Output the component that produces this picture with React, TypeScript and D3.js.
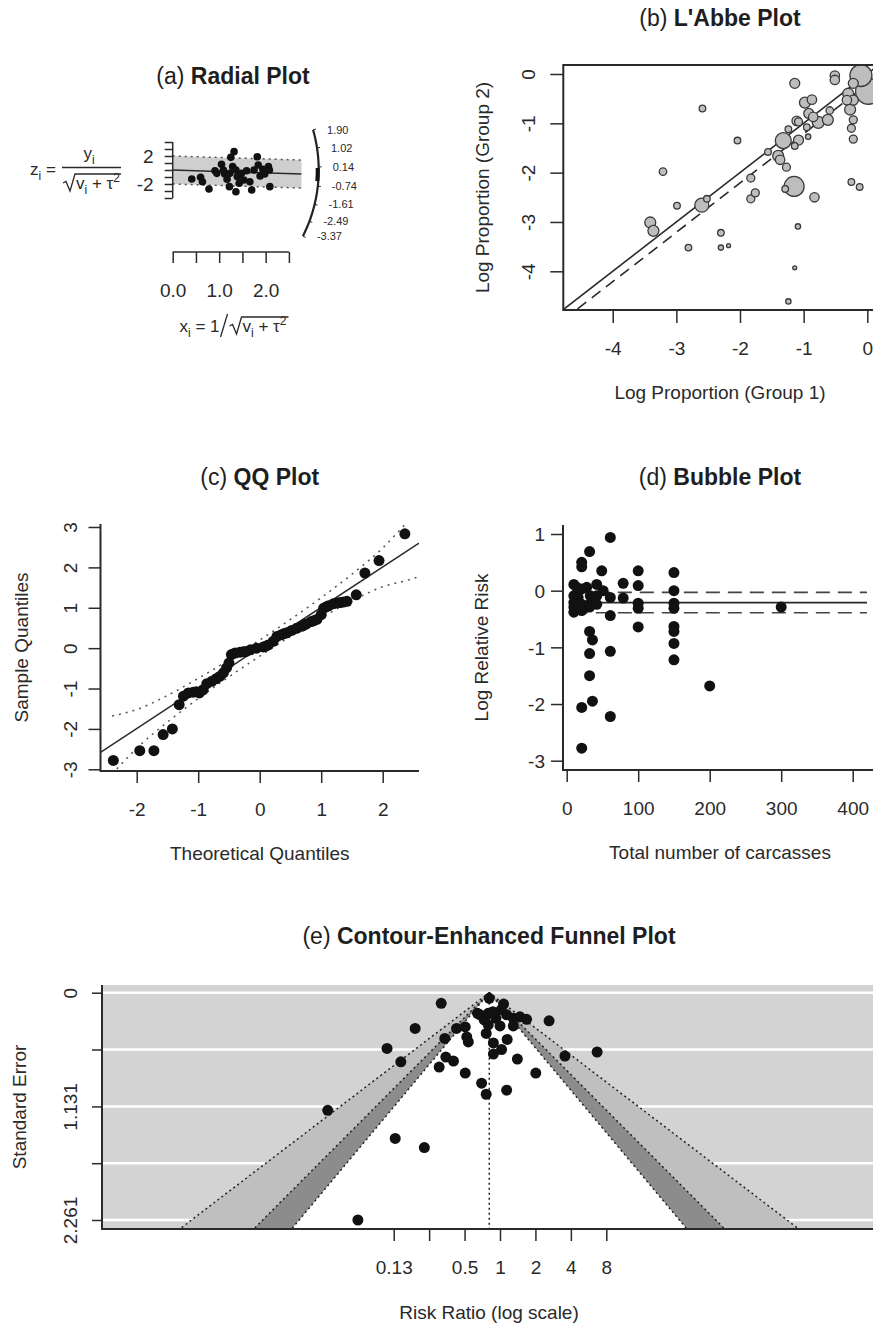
import React, { useEffect, useRef } from 'react';
import * as d3 from 'd3';

const FONT = "'Liberation Sans', Arial, Helvetica, sans-serif";
const INK = '#2a2a2a';

// pooled estimate (log risk ratio), shared by the panels
const pooledLogRR = -0.21;
const pooledCI = [-0.39, -0.03];

// (a) radial plot
const radialX = [0.41, 0.60, 0.64, 0.78, 0.91, 0.95, 1.05, 1.09, 1.12, 1.17, 1.22, 1.23, 1.25, 1.29, 1.32, 1.36, 1.36, 1.39, 1.43, 1.48, 1.53, 1.59, 1.66, 1.70, 1.75, 1.82, 1.84, 1.88, 1.94, 1.98, 2.06, 2.08, 2.09];
const radialZ = [-1.29, -1.05, -1.67, -2.71, -0.10, -0.48, 0.81, 0, -0.57, -1.33, -2.38, -0.48, 1.81, 0.48, 2.62, 0, -3.10, -0.95, -1.90, -0.48, -1.43, -0.10, -1.67, -2.86, 0, 1.90, 0.71, -0.86, 0.10, -0.57, 0.48, 0, -2.38];
const radialArcValues = [1.90, 1.02, 0.14, -0.74, -1.61, -2.49, -3.37];
const radialXTicks = [0, 0.5, 1, 1.5, 2, 2.5];
const radialXLabels = ['0.0', '', '1.0', '', '2.0', ''];
const radialZTicks = [-4, -3, -2, -1, 0, 1, 2, 3, 4];
const radialZLabels = ['', '', '-2', '', '', '', '2', '', ''];
const radialXMax = 2.77;

// (b) L'Abbe plot: log proportions and study weights
const labbeX = [-1.14, -2.59, -2.04, -3.21, -2.99, -2.60, -2.52, -3.41, -3.36, -2.81, -2.30, -2.30, -2.18, -1.83, -1.83, -1.76, -1.15, -1.29, -0.83, -1.09, -1.14, -1.24, -1.27, -1.32, -1.40, -1.56, -1.37, -1.08, -1.11, -1.24, -1.14, -0.98, -0.87, -0.92, -0.77, -0.62, -0.59, -0.95, -0.93, -0.51, -0.51, -0.10, 0.02, -0.22, -0.30, -0.22, -0.32, -0.27, -0.22, -0.25, -0.22, -0.25, -0.12, -1.08, -0.85];
const labbeY = [-0.19, -0.70, -1.35, -1.98, -2.67, -2.66, -2.53, -3.01, -3.18, -3.52, -3.22, -3.52, -3.48, -2.11, -2.53, -2.41, -2.28, -2.33, -2.50, -3.09, -3.93, -4.61, -1.89, -1.35, -1.66, -1.58, -1.74, -1.34, -0.95, -1.12, -1.46, -0.58, -0.52, -0.80, -0.98, -0.93, -0.74, -1.08, -1.27, -0.03, -0.12, -0.03, -0.35, -0.19, -0.40, -0.53, -0.53, -0.72, -0.93, -1.10, -1.32, -2.19, -2.29, -0.97, -0.87];
const labbeW = [25, 11, 11, 14, 11, 49, 11, 30, 30, 11, 11, 7, 4, 16, 16, 16, 100, 11, 22, 7, 4, 7, 16, 64, 30, 11, 22, 25, 22, 11, 11, 30, 22, 25, 36, 30, 14, 11, 7, 22, 22, 121, 169, 25, 30, 25, 22, 30, 16, 16, 16, 11, 11, 16, 22];
const labbeTicks = [-4, -3, -2, -1, 0];

// (c) normal QQ plot
const qqTheoretical = [-2.38, -1.95, -1.72, -1.57, -1.42, -1.31, -1.24, -1.16, -1.08, -1.03, -0.98, -0.92, -0.86, -0.78, -0.71, -0.65, -0.59, -0.54, -0.50, -0.46, -0.40, -0.32, -0.27, -0.22, -0.15, -0.05, 0.06, 0.10, 0.14, 0.22, 0.28, 0.35, 0.40, 0.44, 0.52, 0.60, 0.68, 0.72, 0.76, 0.84, 0.88, 0.93, 1.00, 1.04, 1.08, 1.12, 1.20, 1.26, 1.31, 1.36, 1.42, 1.57, 1.71, 1.94, 2.36];
const qqSample = [-2.78, -2.54, -2.54, -2.14, -2.00, -1.40, -1.19, -1.11, -1.09, -1.08, -1.11, -1.03, -0.88, -0.82, -0.76, -0.70, -0.61, -0.49, -0.37, -0.16, -0.12, -0.10, -0.09, -0.08, -0.04, 0.00, 0.03, 0.05, 0.08, 0.17, 0.29, 0.33, 0.36, 0.38, 0.44, 0.49, 0.54, 0.57, 0.60, 0.66, 0.68, 0.71, 0.83, 0.99, 1.02, 1.05, 1.10, 1.12, 1.13, 1.14, 1.16, 1.32, 1.86, 2.17, 2.83];
const qqBandX = [-2.4, -2.0, -1.5, -1.0, -0.5, 0, 0.5, 1.0, 1.5, 2.0, 2.4, 2.55];
const qqUpper = [-1.68, -1.52, -1.17, -0.75, -0.29, 0.20, 0.71, 1.25, 1.83, 2.48, 3.12, 3.35];
const qqLower = [-3.12, -2.48, -1.83, -1.25, -0.71, -0.20, 0.29, 0.75, 1.17, 1.52, 1.68, 1.75];
const qqLineCoef = [0.01, 1.0];
const qqXTicks = [-2, -1, 0, 1, 2];
const qqYTicks = [-3, -2, -1, 0, 1, 2, 3];

// (d) bubble plot
const bubbleCarcasses = [61, 32, 21, 21, 49, 100, 150, 79, 100, 10, 14, 28, 42, 21, 51, 150, 10, 16, 33, 42, 61, 79, 10, 21, 32, 42, 100, 150, 100, 150, 10, 10, 21, 32, 61, 300, 100, 150, 150, 32, 36, 150, 32, 61, 150, 32, 200, 21, 36, 61, 21];
const bubbleLogRR = [0.94, 0.69, 0.50, 0.42, 0.35, 0.35, 0.32, 0.13, 0.09, 0.11, 0.06, 0.06, 0.11, 0.03, 0, 0, -0.09, -0.12, -0.09, -0.09, -0.12, -0.13, -0.21, -0.24, -0.24, -0.24, -0.22, -0.22, -0.31, -0.31, -0.29, -0.38, -0.35, -0.29, -0.44, -0.29, -0.64, -0.63, -0.72, -0.72, -0.87, -0.93, -1.11, -1.07, -1.22, -1.50, -1.68, -2.06, -1.95, -2.22, -2.78];
const bubbleFitRange = [10, 420];
const bubbleXTicks = [0, 100, 200, 300, 400];
const bubbleYTicks = [-3, -2, -1, 0, 1];

// (e) contour-enhanced funnel plot
const funnelLogRR = [-0.21, -1.15, 0.07, -1.66, -2.21, -1.94, 0.96, 1.27, 1.90, 0.34, 0.70, 0.14, -0.85, -0.68, -0.65, -0.62, -1.08, -1.06, -0.91, -1.19, -0.68, -0.27, -0.13, 0.03, -0.13, -0.36, -0.27, 0.13, -0.39, -0.23, -0.08, 0.13, 0.26, 0.39, 0.52, -0.23, 0.00, 0.26, -3.37, -2.05, -1.48, -2.78, -0.44, 0.02, -0.31, -0.14];
const funnelSE = [0.056, 0.106, 0.113, 0.355, 0.554, 0.688, 0.28, 0.63, 0.59, 0.66, 0.80, 0.465, 0.355, 0.34, 0.44, 0.49, 0.455, 0.64, 0.68, 0.74, 0.80, 0.405, 0.50, 0.565, 0.61, 0.90, 1.01, 0.97, 0.22, 0.205, 0.255, 0.22, 0.255, 0.24, 0.265, 0.32, 0.33, 0.33, 1.17, 1.45, 1.54, 2.261, 0.205, 0.17, 0.27, 0.19];
const funnelXTicks = [0.125, 0.25, 0.5, 1, 2, 4, 8];
const funnelXLabels = ['0.13', '', '0.5', '1', '2', '4', '8'];
const funnelSETicks = [0, 0.565, 1.131, 1.696, 2.261];
const funnelSELabels = ['0', '', '1.131', '', '2.261'];
const funnelLevels = [2.576, 1.96, 1.645]; // 99%, 95%, 90%
const funnelShades = ['#bfbfbf', '#8c8c8c', '#ffffff'];

// ---------- helpers ----------
function drawTitle(svg: any, x: number, y: number, letter: string, name: string) {
  const t = svg.append('text').attr('x', x).attr('y', y).attr('text-anchor', 'middle')
    .style('font-family', FONT).style('font-size', '23px').attr('fill', '#1e1e1e');
  t.append('tspan').text(letter + ' ');
  t.append('tspan').attr('font-weight', 'bold').text(name);
}

function styleAxis(g: any) {
  g.attr('font-family', null).attr('font-size', null);
  g.select('.domain').remove();
  g.selectAll('.tick line').attr('stroke', INK).attr('stroke-width', 1.5);
  g.selectAll('.tick text').attr('fill', INK).style('font-family', FONT).style('font-size', '19px');
}

function bottomAxis(svg: any, scale: any, y: number, ticks: number[], labels: string[], tick: number, gap: number) {
  const g = svg.append('g').attr('transform', `translate(0,${y})`)
    .call(d3.axisBottom(scale).tickValues(ticks).tickSize(tick).tickSizeOuter(0).tickFormat((d: any, i: number) => labels[i]));
  styleAxis(g);
  g.selectAll('.tick text').attr('y', gap).attr('dy', '0.35em');
  return g;
}

function leftAxis(svg: any, scale: any, x: number, ticks: number[], labels: string[], tick: number, gap: number, rotate: boolean) {
  const g = svg.append('g').attr('transform', `translate(${x},0)`)
    .call(d3.axisLeft(scale).tickValues(ticks).tickSize(tick).tickSizeOuter(0).tickFormat((d: any, i: number) => labels[i]));
  styleAxis(g);
  if (rotate) {
    g.selectAll('.tick text').attr('transform', 'rotate(-90)').attr('x', 0).attr('y', -gap)
      .attr('dy', '0.35em').attr('text-anchor', 'middle');
  } else {
    g.selectAll('.tick text').attr('x', -gap).attr('dy', '0.35em').attr('text-anchor', 'end');
  }
  return g;
}

function axisTitle(svg: any, x: number, y: number, text: string, rotate = false) {
  const t = svg.append('text').attr('text-anchor', 'middle').attr('dy', '0.35em')
    .style('font-family', FONT).style('font-size', '19px').attr('fill', INK).text(text);
  if (rotate) t.attr('transform', `translate(${x},${y}) rotate(-90)`);
  else t.attr('x', x).attr('y', y);
}

function lBox(svg: any, x0: number, x1: number, y0: number, y1: number) {
  svg.append('path').attr('d', `M${x0},${y0}V${y1}H${x1}`)
    .attr('fill', 'none').attr('stroke', INK).attr('stroke-width', 2);
}

function clipRect(svg: any, id: string, x0: number, x1: number, y0: number, y1: number) {
  svg.append('clipPath').attr('id', id).append('rect')
    .attr('x', x0).attr('y', y0).attr('width', x1 - x0).attr('height', y1 - y0);
  return svg.append('g').attr('clip-path', `url(#${id})`);
}

// text with sub/superscripts, parts = [text, 'n' | 'sub' | 'sup']
function mathRun(g: any, x: number, y: number, parts: string[][], size = 17, anchor = 'start') {
  const t = g.append('text').attr('x', x).attr('y', y).attr('text-anchor', anchor)
    .style('font-family', FONT).style('font-size', size + 'px').attr('fill', INK);
  let shift = 0;
  parts.forEach(([s, kind]) => {
    const want = kind === 'sub' ? 0.3 * size : kind === 'sup' ? -0.42 * size : 0;
    t.append('tspan').attr('dy', want - shift)
      .style('font-size', (kind === 'n' ? size : Math.round(size * 0.7)) + 'px').text(s);
    shift = want;
  });
  return t;
}

// ---------- (a) radial ----------
function drawRadial(svg: any) {
  const xS = d3.scaleLinear().domain([0, 2.5]).range([172.7, 288.9]);
  const zS = d3.scaleLinear().domain([-4, 4]).range([198, 142]);
  const b = pooledLogRR;
  const g = svg.append('g');

  const band = [[0, 2], [radialXMax, b * radialXMax + 2], [radialXMax, b * radialXMax - 2], [0, -2]];
  g.append('path').attr('d', d3.line()(band.map(p => [xS(p[0]), zS(p[1])]) as any) + 'Z').attr('fill', '#cfcfcf');
  [2, -2].forEach(off => {
    g.append('line').attr('x1', xS(0)).attr('y1', zS(off)).attr('x2', xS(radialXMax)).attr('y2', zS(b * radialXMax + off))
      .attr('stroke', '#555').attr('stroke-width', 1.5).attr('stroke-dasharray', '2,4');
  });
  g.append('line').attr('x1', xS(0)).attr('y1', zS(0)).attr('x2', xS(radialXMax)).attr('y2', zS(b * radialXMax))
    .attr('stroke', INK).attr('stroke-width', 1.5);

  g.selectAll('.rdot').data(radialX).join('circle').attr('class', 'rdot')
    .attr('cx', (d: number) => xS(d)).attr('cy', (d: number, i: number) => zS(radialZ[i]))
    .attr('r', 3.8).attr('fill', '#111');

  // axes (R style: line from first to last tick)
  g.append('line').attr('x1', xS(0)).attr('x2', xS(0)).attr('y1', zS(-4)).attr('y2', zS(4)).attr('stroke', INK).attr('stroke-width', 1.5);
  leftAxis(g, zS, xS(0), radialZTicks, radialZLabels, 8, 19, false);
  g.append('line').attr('x1', xS(0)).attr('x2', xS(2.5)).attr('y1', 252).attr('y2', 252).attr('stroke', INK).attr('stroke-width', 1.5);
  bottomAxis(g, xS, 252, radialXTicks, radialXLabels, 11, 38);

  // arc with effect-size scale
  const ox = xS(0), oz = zS(0), R = 146;
  const arcPt = (v: number, r = R) => {
    const a = Math.atan2(zS(v) - oz, xS(1) - ox);
    return [ox + r * Math.cos(a), oz + r * Math.sin(a)];
  };
  const [lo, hi] = d3.extent(radialArcValues) as number[];
  g.append('path').attr('d', d3.line()(d3.range(0, 1.0001, 0.02).map(t => arcPt(lo + t * (hi - lo))) as any))
    .attr('fill', 'none').attr('stroke', '#222').attr('stroke-width', 2.2);
  radialArcValues.forEach(v => {
    const p = arcPt(v), q = arcPt(v, R + 3);
    g.append('line').attr('x1', p[0]).attr('y1', p[1]).attr('x2', q[0]).attr('y2', q[1]).attr('stroke', '#222').attr('stroke-width', 1);
    g.append('text').attr('x', p[0] + 14).attr('y', p[1]).attr('dy', '0.35em')
      .style('font-family', FONT).style('font-size', '11px').attr('fill', INK).text(v.toFixed(2));
  });
  g.append('path').attr('d', d3.line()(d3.range(-0.3, 0.3001, 0.05).map(t => arcPt(b + t, R - 1)) as any))
    .attr('fill', 'none').attr('stroke', '#111').attr('stroke-width', 4);

  // y-axis formula: z_i = y_i / sqrt(v_i + tau^2)
  mathRun(g, 30, 175, [['z', 'n'], ['i', 'sub'], [' =', 'n']]);
  mathRun(g, 89, 159, [['y', 'n'], ['i', 'sub']], 17, 'middle');
  g.append('line').attr('x1', 62).attr('x2', 121).attr('y1', 167.5).attr('y2', 167.5).attr('stroke', INK).attr('stroke-width', 1.5);
  g.append('path').attr('d', 'M63,183 L66,181.5 L70,191 L75,174 L121,174').attr('fill', 'none').attr('stroke', INK).attr('stroke-width', 1.3);
  mathRun(g, 76, 189, [['v', 'n'], ['i', 'sub'], [' + τ', 'n'], ['2', 'sup']]);

  // x-axis formula: x_i = 1 / sqrt(v_i + tau^2)
  const fg = g.append('g');
  const left = mathRun(fg, 0, 332, [['x', 'n'], ['i', 'sub'], [' = 1', 'n']]);
  const w1 = (left.node() as any).getComputedTextLength();
  fg.append('line').attr('x1', w1 + 1).attr('y1', 337).attr('x2', w1 + 8).attr('y2', 314).attr('stroke', INK).attr('stroke-width', 1.3);
  const s = w1 + 10;
  const den = mathRun(fg, s + 13, 332, [['v', 'n'], ['i', 'sub'], [' + τ', 'n'], ['2', 'sup']]);
  const w2 = (den.node() as any).getComputedTextLength();
  fg.append('path').attr('d', `M${s},326 L${s + 3},324.5 L${s + 7},334 L${s + 12},317 L${s + 15 + w2},317`)
    .attr('fill', 'none').attr('stroke', INK).attr('stroke-width', 1.3);
  const total = s + 15 + w2;
  fg.attr('transform', `translate(${234 - total / 2},0)`);

  drawTitle(svg, 233, 84, '(a)', 'Radial Plot');
}

// ---------- (b) L'Abbe ----------
function drawLabbe(svg: any) {
  const x0 = 563.3, x1 = 876, y0 = 65, y1 = 310;
  const xS = d3.scaleLinear().domain([-4, 0]).range([612.7, 867.3]);
  const yS = d3.scaleLinear().domain([-4, 0]).range([271.3, 74]);
  const rS = d3.scaleSqrt().domain([0, 169]).range([0, 13]);
  const g = clipRect(svg, 'clipB', x0, x1, y0, y1);
  const a = xS.invert(x0), c = xS.invert(x1);

  g.append('line').attr('x1', xS(a)).attr('y1', yS(a)).attr('x2', xS(c)).attr('y2', yS(c))
    .attr('stroke', INK).attr('stroke-width', 1.6);
  g.append('line').attr('x1', xS(a)).attr('y1', yS(a + pooledLogRR)).attr('x2', xS(c)).attr('y2', yS(c + pooledLogRR))
    .attr('stroke', INK).attr('stroke-width', 1.6).attr('stroke-dasharray', '11,7');

  const order = d3.range(labbeX.length).sort((i, j) => labbeW[j] - labbeW[i]);
  g.selectAll('.lb').data(order).join('circle').attr('class', 'lb')
    .attr('cx', (i: number) => xS(labbeX[i])).attr('cy', (i: number) => yS(labbeY[i]))
    .attr('r', (i: number) => rS(labbeW[i]))
    .attr('fill', '#bdbdbd').attr('stroke', '#3a3a3a').attr('stroke-width', 1.3);

  svg.append('rect').attr('x', x0).attr('y', y0).attr('width', x1 - x0).attr('height', y1 - y0)
    .attr('fill', 'none').attr('stroke', INK).attr('stroke-width', 2);
  bottomAxis(svg, xS, y1, labbeTicks, labbeTicks.map(String), 13, 38);
  leftAxis(svg, yS, x0, labbeTicks, labbeTicks.map(String), 13, 35, true);
  axisTitle(svg, 720, 392, 'Log Proportion (Group 1)');
  axisTitle(svg, 482, (y0 + y1) / 2, 'Log Proportion (Group 2)', true);
  drawTitle(svg, 720, 26, '(b)', "L'Abbe Plot");
}

// ---------- (c) QQ ----------
function drawQQ(svg: any) {
  const x0 = 100.5, x1 = 419, y0 = 524, y1 = 771;
  const xS = d3.scaleLinear().domain([-2, 2]).range([136.7, 382.7]);
  const yS = d3.scaleLinear().domain([-3, 3]).range([769.3, 527]);
  const g = clipRect(svg, 'clipC', x0, x1, y0, y1);

  const env = d3.line<number>().x(i => xS(qqBandX[i])).curve(d3.curveMonotoneX);
  [qqUpper, qqLower].forEach(arr => {
    g.append('path').attr('d', env.y(i => yS(arr[i]))(d3.range(qqBandX.length)))
      .attr('fill', 'none').attr('stroke', '#555').attr('stroke-width', 1.5).attr('stroke-dasharray', '2,5');
  });
  const a = xS.invert(x0), c = xS.invert(x1);
  g.append('line').attr('x1', xS(a)).attr('y1', yS(qqLineCoef[0] + qqLineCoef[1] * a))
    .attr('x2', xS(c)).attr('y2', yS(qqLineCoef[0] + qqLineCoef[1] * c)).attr('stroke', INK).attr('stroke-width', 1.5);
  g.selectAll('.qd').data(qqTheoretical).join('circle').attr('class', 'qd')
    .attr('cx', (d: number) => xS(d)).attr('cy', (d: number, i: number) => yS(qqSample[i]))
    .attr('r', 5.5).attr('fill', '#111');

  lBox(svg, x0, x1, y0, y1);
  bottomAxis(svg, xS, y1, qqXTicks, qqXTicks.map(String), 12, 38);
  leftAxis(svg, yS, x0, qqYTicks, qqYTicks.map(String), 12, 30, true);
  axisTitle(svg, (x0 + x1) / 2, 853, 'Theoretical Quantiles');
  axisTitle(svg, 21.7, (y0 + y1) / 2, 'Sample Quantiles', true);
  drawTitle(svg, (x0 + x1) / 2, 485, '(c)', 'QQ Plot');
}

// ---------- (d) bubble ----------
function drawBubble(svg: any) {
  const x0 = 563, x1 = 878, y0 = 525, y1 = 770;
  const xS = d3.scaleLinear().domain([0, 400]).range([566.7, 852.7]);
  const yS = d3.scaleLinear().domain([-3, 1]).range([760.7, 534]);
  const g = clipRect(svg, 'clipD', x0, x1, y0, y1);

  g.append('line').attr('x1', xS(bubbleFitRange[0])).attr('x2', xS(bubbleFitRange[1]))
    .attr('y1', yS(pooledLogRR)).attr('y2', yS(pooledLogRR)).attr('stroke', INK).attr('stroke-width', 1.6);
  pooledCI.forEach(v => {
    g.append('line').attr('x1', xS(bubbleFitRange[0])).attr('x2', xS(bubbleFitRange[1]))
      .attr('y1', yS(v)).attr('y2', yS(v)).attr('stroke', '#444').attr('stroke-width', 1.6).attr('stroke-dasharray', '14,8');
  });
  g.selectAll('.bd').data(bubbleCarcasses).join('circle').attr('class', 'bd')
    .attr('cx', (d: number) => xS(d)).attr('cy', (d: number, i: number) => yS(bubbleLogRR[i]))
    .attr('r', 5.5).attr('fill', '#111');

  lBox(svg, x0, x1, y0, y1);
  bottomAxis(svg, xS, y1, bubbleXTicks, bubbleXTicks.map(String), 12, 38);
  leftAxis(svg, yS, x0, bubbleYTicks, bubbleYTicks.map(String), 12, 18, false);
  axisTitle(svg, 720, 852, 'Total number of carcasses');
  axisTitle(svg, 481.7, (y0 + y1) / 2, 'Log Relative Risk', true);
  drawTitle(svg, 720, 485, '(d)', 'Bubble Plot');
}

// ---------- (e) funnel ----------
function drawFunnel(svg: any) {
  const x0 = 102, x1 = 876.6, y0 = 985, y1 = 1229;
  const xS = d3.scaleLog().base(2).domain([0.125, 8]).range([393.7, 606.3]);
  const yS = d3.scaleLinear().domain([0, 2.261]).range([992.7, 1220]);
  const g = clipRect(svg, 'clipE', x0, x1, y0, y1);
  const seB = yS.invert(y1);
  const est = pooledLogRR;

  g.append('rect').attr('x', x0).attr('y', y0).attr('width', x1 - x0).attr('height', y1 - y0).attr('fill', '#d3d3d3');
  funnelSETicks.forEach(v => {
    g.append('line').attr('x1', x0).attr('x2', x1).attr('y1', yS(v)).attr('y2', yS(v)).attr('stroke', '#fff').attr('stroke-width', 2.5);
  });
  funnelLevels.forEach((z, k) => {
    const pts = [[est - z * seB, seB], [est, 0], [est + z * seB, seB]];
    g.append('path').attr('d', d3.line()(pts.map(p => [xS(Math.exp(p[0])), yS(p[1])]) as any) + 'Z')
      .attr('fill', funnelShades[k]);
  });
  funnelLevels.forEach(z => {
    [-1, 1].forEach(sgn => {
      g.append('line').attr('x1', xS(Math.exp(est))).attr('y1', yS(0))
        .attr('x2', xS(Math.exp(est + sgn * z * seB))).attr('y2', yS(seB))
        .attr('stroke', '#222').attr('stroke-width', 1.5).attr('stroke-dasharray', '2,3');
    });
  });
  g.append('line').attr('x1', xS(Math.exp(est))).attr('x2', xS(Math.exp(est))).attr('y1', yS(0)).attr('y2', yS(seB))
    .attr('stroke', '#222').attr('stroke-width', 1.5).attr('stroke-dasharray', '2,3');
  g.selectAll('.fd').data(funnelLogRR).join('circle').attr('class', 'fd')
    .attr('cx', (d: number) => xS(Math.exp(d))).attr('cy', (d: number, i: number) => yS(funnelSE[i]))
    .attr('r', 5.5).attr('fill', '#111');

  lBox(svg, x0, x1, y0, y1);
  bottomAxis(svg, xS, y1, funnelXTicks, funnelXLabels, 12, 38);
  leftAxis(svg, yS, x0, funnelSETicks, funnelSELabels, 10, 32, true);
  axisTitle(svg, 489, 1312, 'Risk Ratio (log scale)');
  axisTitle(svg, 19.5, (y0 + y1) / 2, 'Standard Error', true);
  drawTitle(svg, 489, 944, '(e)', 'Contour-Enhanced Funnel Plot');
}

export default function App() {
  const ref = useRef<SVGSVGElement>(null);

  useEffect(() => {
    const svg = d3.select(ref.current);
    svg.selectAll('*').remove();
    drawRadial(svg);
    drawLabbe(svg);
    drawQQ(svg);
    drawBubble(svg);
    drawFunnel(svg);
  }, []);

  return (
    <svg ref={ref} width={873} height={1325}
      style={{ position: 'absolute', left: 0, top: 0, background: '#fff', display: 'block' }} />
  );
}
